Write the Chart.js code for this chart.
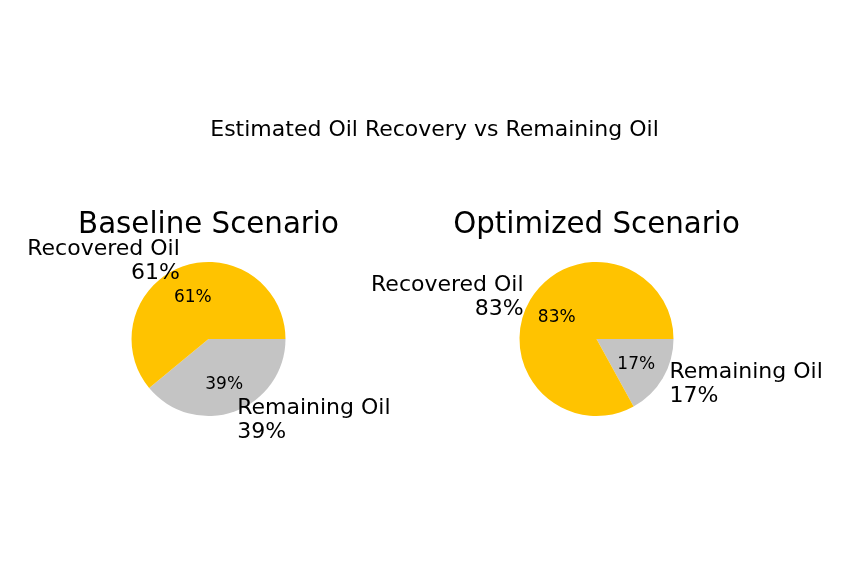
<!DOCTYPE html>
<html>
<head>
<meta charset="utf-8">
<script src="https://cdn.jsdelivr.net/npm/chart.js@4/dist/chart.umd.min.js"></script>
<style>
  html, body { margin: 0; padding: 0; background: #fff; }
  #wrap { position: relative; width: 850px; height: 566px; overflow: hidden; font-family: "DejaVu Sans", sans-serif; color: #000; }
  canvas { position: absolute; left: 0; top: 0; }
  .title { position: absolute; white-space: nowrap; line-height: 1; transform: translateX(-50%); }
  #mainTitle { font-size: 22px; left: 434.5px; top: 118px; }
  .subTitle { font-size: 29.3px; top: 208.5px; }
</style>
</head>
<body>
<div id="wrap">
  <canvas id="pieBase" width="850" height="566"></canvas>
  <canvas id="pieOpt" width="850" height="566"></canvas>
  <div id="mainTitle" class="title"></div>
  <div id="titleBase" class="title subTitle" style="left:208.5px"></div>
  <div id="titleOpt" class="title subTitle" style="left:596.5px"></div>
</div>
<script>
// ── Data ──────────────────────────────────────────────────────────
const chartTitle = 'Estimated Oil Recovery vs Remaining Oil';
const scenarioTitles = ['Baseline Scenario', 'Optimized Scenario'];
const categories = ['Recovered Oil', 'Remaining Oil'];
const baselineValues = [61, 39];
const optimizedValues = [83, 17];
const sliceColors = ['#ffc300', '#c4c4c4'];

document.getElementById('mainTitle').textContent = chartTitle;
document.getElementById('titleBase').textContent = scenarioTitles[0];
document.getElementById('titleOpt').textContent = scenarioTitles[1];

// ── Slice labels (outside name + %, inside %) ─────────────────────
const pieLabels = {
    id: 'pieLabels',
    afterDatasetsDraw(chart) {
        const ctx = chart.ctx;
        const ds = chart.data.datasets[0];
        const total = ds.data.reduce((a, b) => a + b, 0);
        chart.getDatasetMeta(0).data.forEach((arc, i) => {
            const mid = (arc.startAngle + arc.endAngle) / 2;
            const r = arc.outerRadius;
            const pct = Math.round(ds.data[i] / total * 100) + '%';
            const cos = Math.cos(mid), sin = Math.sin(mid);

            ctx.save();
            ctx.fillStyle = '#000';
            ctx.textBaseline = 'alphabetic';

            // outer label at 1.1 r
            ctx.font = '22px "DejaVu Sans", sans-serif';
            ctx.textAlign = cos >= 0 ? 'left' : 'right';
            const lx = arc.x + cos * r * 1.1;
            const ly = arc.y + sin * r * 1.1;
            ctx.fillText(chart.data.labels[i], lx, ly - 4.5);
            ctx.fillText(pct, lx, ly + 19.5);

            // autopct at 0.6 r
            ctx.font = '17px "DejaVu Sans", sans-serif';
            ctx.textAlign = 'center';
            ctx.fillText(pct, arc.x + cos * r * 0.6, arc.y + sin * r * 0.6 + 6.2);
            ctx.restore();
        });
    }
};

// Chart.js goes clockwise, so list the slices in reverse and start at 3 o'clock
function makePie(id, values, pad) {
    return new Chart(document.getElementById(id), {
        type: 'pie',
        data: {
            labels: categories.slice().reverse(),
            datasets: [{
                data: values.slice().reverse(),
                backgroundColor: sliceColors.slice().reverse(),
                borderWidth: 0
            }]
        },
        options: {
            responsive: false,
            animation: false,
            rotation: 90,
            layout: { padding: pad },
            plugins: { legend: { display: false }, tooltip: { enabled: false } }
        },
        plugins: [pieLabels]
    });
}

makePie('pieBase', baselineValues, { left: 131.5, right: 564.5, top: 262, bottom: 150 });
makePie('pieOpt', optimizedValues, { left: 519.5, right: 176.5, top: 262, bottom: 150 });
</script>
</body>
</html>
